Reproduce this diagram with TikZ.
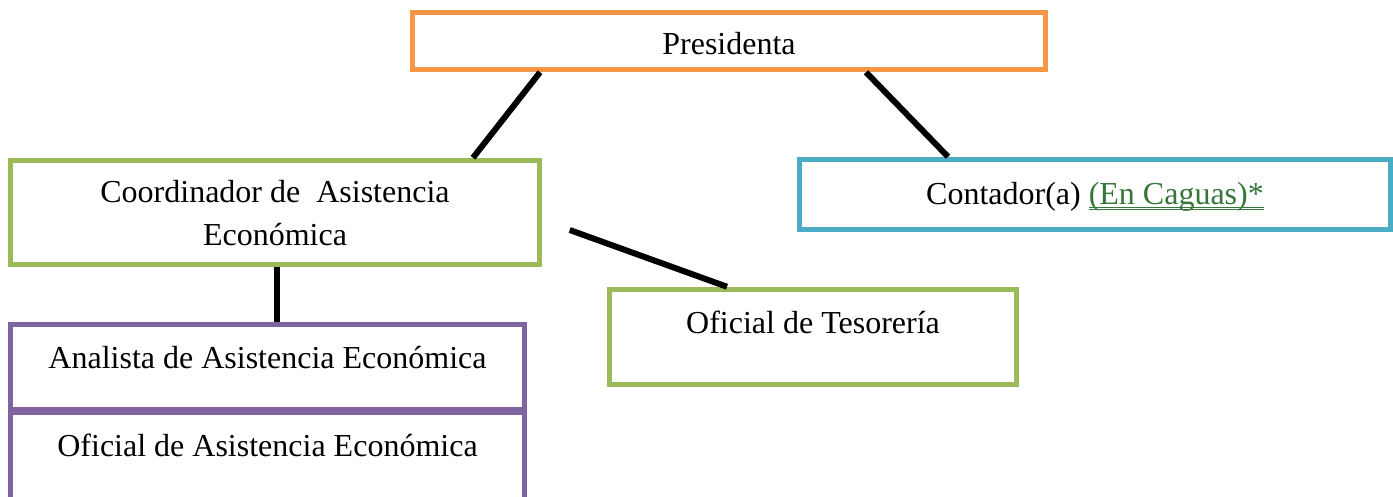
\documentclass[tikz,border=0pt]{standalone}
\usepackage{fontspec}
\setmainfont{Liberation Serif}
\definecolor{borange}{HTML}{F79646}
\definecolor{bgreen}{HTML}{9BBB59}
\definecolor{bblue}{HTML}{4BACC6}
\definecolor{bpurple}{HTML}{8064A2}
\definecolor{linkgreen}{RGB}{54,118,58}
\newcommand\dblul[1]{\setbox0\hbox{#1}\rlap{\rule[-3.5pt]{\wd0}{1pt}}\rlap{\rule[-6pt]{\wd0}{1pt}}\box0}
\newcommand\dn[2]{\raisebox{-#1}[\height][\depth]{#2}}
\begin{document}
\begin{tikzpicture}[x=1pt,y=-1pt,
  box/.style={draw, line width=5.5pt, fill=white, inner sep=0pt, font=\fontsize{32}{43}\selectfont},
  conn/.style={line width=6pt, black}]
\useasboundingbox (0,0) rectangle (1393,496);
\node[box, draw=borange, minimum width=633pt, minimum height=57pt] (pres) at (729,41) {\dn{2.5pt}{Presidenta}};
\node[box, draw=bgreen, minimum width=529pt, minimum height=104pt] (coord) at (275,212.5) {\dn{3pt}{\begin{tabular}{@{}c@{}}Coordinador de\ \ Asistencia\\Económica\end{tabular}}};
\node[box, draw=bblue, minimum width=591pt, minimum height=70pt] (cont) at (1095,194.5) {\dn{2pt}{Contador(a) \textcolor{linkgreen}{\dblul{(En Caguas)*}}}};
\node[box, draw=bgreen, minimum width=407pt, text height=43.5pt, text depth=51.5pt] (tes) at (813,337) {Oficial de Tesorería};
\node[box, draw=bpurple, minimum width=514pt, text height=43.5pt, text depth=41.5pt] (anal) at (267.5,367) {Analista de Asistencia Económica};
\node[box, draw=bpurple, minimum width=514pt, text height=43.5pt, text depth=46.5pt] (ofic) at (267.5,457.5) {Oficial de Asistencia Económica};
\draw[conn] ([xshift=-189pt]pres.south) -- ([xshift=198pt]coord.north);
\draw[conn] ([xshift=137pt]pres.south) -- ([xshift=-147pt]cont.north);
\coordinate (c3) at ([xshift=27.5pt,yshift=-17.5pt]coord.east);
\draw[conn] (c3) -- ([xshift=-86pt]tes.north);
\draw[conn] ([xshift=2pt]coord.south) -- ([xshift=9.5pt]anal.north);
\end{tikzpicture}
\end{document}
